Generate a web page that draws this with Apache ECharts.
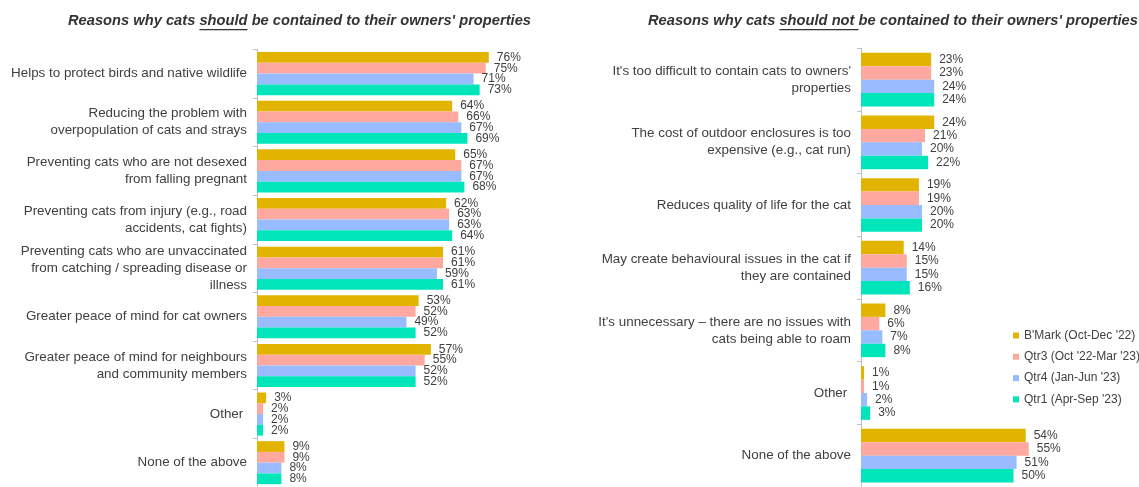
<!DOCTYPE html>
<html>
<head>
<meta charset="utf-8">
<script src="https://cdn.jsdelivr.net/npm/echarts@6/dist/echarts.min.js"></script>
<style>
  html, body { margin: 0; padding: 0; background: #ffffff; }
  #chart { width: 1139px; height: 487px; }
</style>
</head>
<body>
<div id="chart"></div>
<script>
// Survey waves shown in both panels
const seriesNames = ["B'Mark (Oct-Dec '22)", "Qtr3 (Oct '22-Mar '23)", "Qtr4 (Jan-Jun '23)", "Qtr1 (Apr-Sep '23)"];
const seriesColors = ['#E2B400', '#FFA89F', '#99BBFF', '#00E5BA'];

// Left panel: reasons cats should be contained
const categoriesShould = [
  'Helps to protect birds and native wildlife',
  'Reducing the problem with\noverpopulation of cats and strays',
  'Preventing cats who are not desexed\nfrom falling pregnant',
  'Preventing cats from injury (e.g., road\naccidents, cat fights)',
  'Preventing cats who are unvaccinated\nfrom catching / spreading disease or\nillness',
  'Greater peace of mind for cat owners',
  'Greater peace of mind for neighbours\nand community members',
  'Other ',
  'None of the above'
];
const bmarkShould = [76, 64, 65, 62, 61, 53, 57, 3, 9];
const qtr3Should  = [75, 66, 67, 63, 61, 52, 55, 2, 9];
const qtr4Should  = [71, 67, 67, 63, 59, 49, 52, 2, 8];
const qtr1Should  = [73, 69, 68, 64, 61, 52, 52, 2, 8];

// Right panel: reasons cats should not be contained
const categoriesShouldNot = [
  "It's too difficult to contain cats to owners'\nproperties",
  'The cost of outdoor enclosures is too\nexpensive (e.g., cat run)',
  'Reduces quality of life for the cat',
  'May create behavioural issues in the cat if\nthey are contained',
  'It\u2019s unnecessary \u2013 there are no issues with\ncats being able to roam',
  'Other ',
  'None of the above'
];
const bmarkShouldNot = [23, 24, 19, 14, 8, 1, 54];
const qtr3ShouldNot  = [23, 21, 19, 15, 6, 1, 55];
const qtr4ShouldNot  = [24, 20, 20, 15, 7, 2, 51];
const qtr1ShouldNot  = [24, 22, 20, 16, 8, 3, 50];

// Panel titles split around the underlined words
const titleShould = ['Reasons why cats ', 'should', " be contained to their owners' properties"];
const titleShouldNot = ['Reasons why cats ', 'should not ', "be contained to their owners' properties"];

const FONT = '"Liberation Sans", Arial, sans-serif';
const TEXT = '#404040';
const AXIS = '#BFBFBF';
const titleFont = 'italic bold 14.7px ' + FONT;

const measureCtx = document.createElement('canvas').getContext('2d');
measureCtx.font = titleFont;
function titleGraphic(parts, x, y, underlineY) {
  const pre = measureCtx.measureText(parts[0]).width;
  const word = measureCtx.measureText(parts[1]).width;
  return [
    { type: 'text', x: x, y: y,
      style: { text: parts.join(''), font: titleFont, fill: '#333333', verticalAlign: 'middle' } },
    { type: 'rect', shape: { x: x + pre, y: underlineY, width: word, height: 1.3 },
      style: { fill: '#333333' } }
  ];
}

function yAxisFor(gridIndex, cats) {
  return {
    type: 'category', gridIndex: gridIndex, data: cats, inverse: true,
    axisLine: { show: true, lineStyle: { color: AXIS, width: 1 } },
    axisTick: { show: true, length: 4, lineStyle: { color: AXIS } },
    axisLabel: { color: TEXT, fontSize: 13.4, fontFamily: FONT, margin: 10, lineHeight: 17, align: 'right' }
  };
}
function xAxisFor(gridIndex) {
  return { type: 'value', gridIndex: gridIndex, min: 0, max: 80, show: false };
}
function barSeries(name, idx, gridIndex, data, gapPct) {
  return {
    type: 'bar', name: name, xAxisIndex: gridIndex, yAxisIndex: gridIndex, data: data,
    barGap: '0%', barCategoryGap: gapPct,
    itemStyle: { color: seriesColors[idx] },
    label: { show: true, position: 'right', distance: 8, formatter: '{c}%',
             color: TEXT, fontSize: 12, fontFamily: FONT },
    emphasis: { disabled: true },
    animation: false
  };
}

const chart = echarts.init(document.getElementById('chart'), null, { renderer: 'canvas' });
const shouldSets = [bmarkShould, qtr3Should, qtr4Should, qtr1Should];
const shouldNotSets = [bmarkShouldNot, qtr3ShouldNot, qtr4ShouldNot, qtr1ShouldNot];

chart.setOption({
  animation: false,
  backgroundColor: '#ffffff',
  graphic: titleGraphic(titleShould, 68, 20.5, 29).concat(titleGraphic(titleShouldNot, 648, 20.5, 29)),
  grid: [
    { left: 257, top: 49.3, width: 244, height: 441, containLabel: false },
    { left: 861, top: 48.3, width: 244, height: 439, containLabel: false }
  ],
  xAxis: [xAxisFor(0), xAxisFor(1)],
  yAxis: [yAxisFor(0, categoriesShould), yAxisFor(1, categoriesShouldNot)],
  legend: {
    orient: 'vertical', left: 1013, top: 329, padding: 0,
    data: seriesNames, icon: 'rect', itemWidth: 6, itemHeight: 6, itemGap: 8.3,
    textStyle: { color: TEXT, fontSize: 12, fontFamily: FONT, lineHeight: 13 },
    selectedMode: false
  },
  series: seriesNames.map((n, i) => barSeries(n, i, 0, shouldSets[i], '11.5%'))
    .concat(seriesNames.map((n, i) => barSeries(n, i, 1, shouldNotSets[i], '14.4%')))
});
</script>
</body>
</html>
